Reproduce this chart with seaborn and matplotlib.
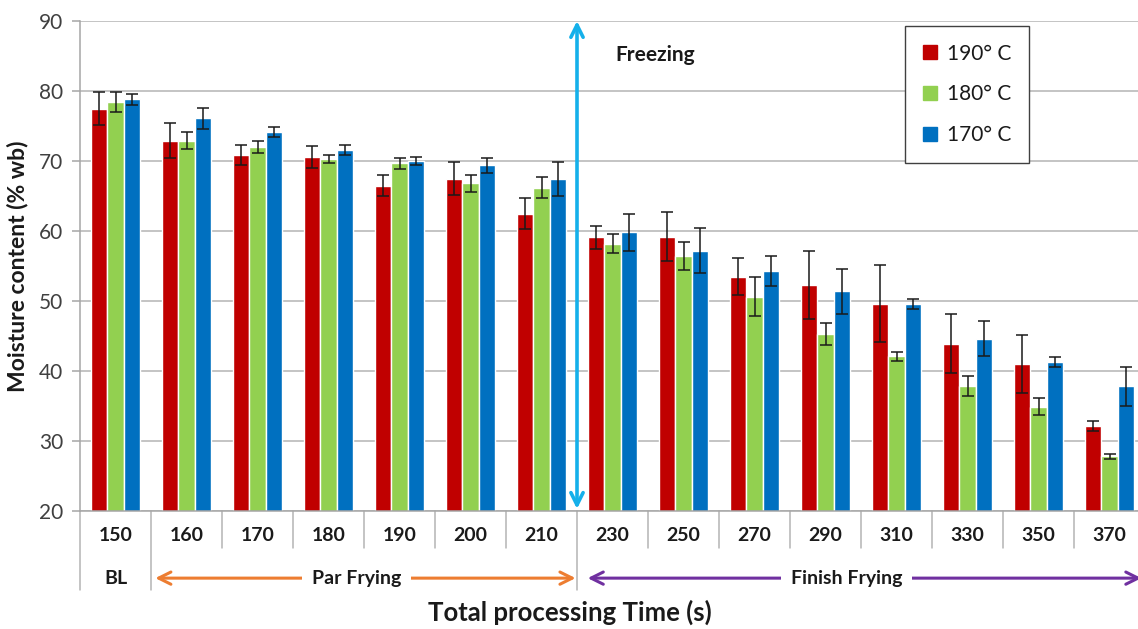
import matplotlib
matplotlib.use("Agg")
import matplotlib.pyplot as plt
import matplotlib.transforms as mtransforms
import numpy as np
import pandas as pd
import seaborn as sns

# Total processing time (s) for each sampling point
times = ['150', '160', '170', '180', '190', '200', '210', '230', '250',
         '270', '290', '310', '330', '350', '370']

# Moisture content (% wb) at each frying temperature
m190 = [77.5, 72.9, 70.9, 70.6, 66.5, 67.5, 62.5, 59.1, 59.2, 53.5, 52.3, 49.6, 43.9, 41.0, 32.2]
m180 = [78.4, 72.9, 72.0, 70.3, 69.7, 66.8, 66.2, 58.2, 56.5, 50.6, 45.3, 42.1, 37.9, 34.9, 27.8]
m170 = [78.8, 76.1, 74.2, 71.6, 70.0, 69.4, 67.4, 59.8, 57.2, 54.3, 51.4, 49.6, 44.6, 41.3, 37.8]

# Standard deviations
e190 = [2.4, 2.5, 1.4, 1.6, 1.5, 2.4, 2.2, 1.6, 3.55, 2.6, 4.9, 5.5, 4.2, 4.2, 0.7]
e180 = [1.4, 1.2, 0.9, 0.6, 0.8, 1.2, 1.5, 1.35, 2.0, 2.8, 1.6, 0.6, 1.4, 1.2, 0.4]
e170 = [0.8, 1.5, 0.7, 0.7, 0.55, 1.1, 2.4, 2.7, 3.2, 2.15, 3.2, 0.75, 2.5, 0.7, 2.8]

temps = ['190° C', '180° C', '170° C']
colors = ['#c00000', '#92d050', '#0070c0']

df = pd.concat([
    pd.DataFrame({'time': times, 'moisture': m, 'temp': t})
    for m, t in zip([m190, m180, m170], temps)
], ignore_index=True)

sns.set_theme(style='white')
plt.rcParams['font.family'] = ['Lato', 'DejaVu Sans']

fig = plt.figure(figsize=(11.38, 6.29), dpi=100)
ax = fig.add_axes([80 / 1138, 1 - 511 / 629, 1065 / 1138, 490 / 629])

sns.barplot(data=df, x='time', y='moisture', hue='temp', hue_order=temps,
            palette=colors, order=times, width=0.68, errorbar=None,
            saturation=1, ax=ax, legend=False, zorder=2)

# Error bars on top of each bar
for cont, errs in zip(ax.containers, [e190, e180, e170]):
    xs = [p.get_x() + p.get_width() / 2 for p in cont.patches]
    ys = [p.get_height() for p in cont.patches]
    ax.errorbar(xs, ys, yerr=errs, fmt='none', ecolor='#1a1a1a',
                elinewidth=1.1, capsize=4.3, capthick=1.1, zorder=3)

ax.set_ylim(20, 90)
ax.set_xlim(-0.5, len(times) - 0.5)
ax.set_yticks(np.arange(20, 91, 10))
ax.yaxis.grid(True, color='#b4b4b4', linewidth=1.1, zorder=0)
ax.set_axisbelow(True)
for s in ['top', 'right']:
    ax.spines[s].set_visible(False)
for s in ['left', 'bottom']:
    ax.spines[s].set_color('#a6a6a6')
    ax.spines[s].set_linewidth(1.1)
ax.spines['left'].set_bounds(20, 90)

ax.tick_params(axis='y', which='major', left=True, length=6, width=1.1,
               color='#a6a6a6', labelsize=15, labelcolor='#404040', pad=6)
ax.tick_params(axis='x', bottom=False, labelbottom=False)
ax.set_xlabel('')
ax.set_ylabel('Moisture content (% wb)', fontsize=16.5, fontweight='bold',
              color='#1a1a1a', labelpad=8)

# Multi-level category axis below the plot
trans = mtransforms.blended_transform_factory(ax.transData, ax.transAxes)
for i, t in enumerate(times):
    ax.text(i, -0.051, t, transform=trans, ha='center', va='center',
            fontsize=14, fontweight='bold', color='#1a1a1a')
for b in np.arange(-0.5, len(times) - 0.5, 1.0):
    long_tick = b in (-0.5, 0.5, 6.5)
    ax.plot([b, b], [0, -0.161 if long_tick else -0.0755], transform=trans,
            color='#b4b4b4', linewidth=1.1, clip_on=False)

ax.text(0, -0.137, 'BL', transform=trans, ha='center', va='center',
        fontsize=14, fontweight='bold', color='#1a1a1a')


def span_arrow(x0, x1, label, xtext, color):
    ax.annotate('', xy=(x0, -0.137), xytext=(x1, -0.137), xycoords=trans,
                textcoords=trans,
                arrowprops=dict(arrowstyle='<->', color=color, lw=2.2,
                                mutation_scale=22, shrinkA=0, shrinkB=0))
    ax.text(xtext, -0.137, label, transform=trans, ha='center', va='center',
            fontsize=14, fontweight='bold', color='#1a1a1a',
            bbox=dict(facecolor='white', edgecolor='none', pad=7))


span_arrow(0.56, 6.48, 'Par Frying', 3.4, '#ed7d31')
span_arrow(6.65, 14.45, 'Finish Frying', 10.3, '#7030a0')

# Freezing step marker
ax.annotate('', xy=(6.5, 20.3), xytext=(6.5, 90), xycoords='data',
            arrowprops=dict(arrowstyle='<->', color='#15b0ea', lw=2.6,
                            mutation_scale=22, shrinkA=0, shrinkB=0),
            zorder=4)
ax.text(7.6, 85.2, 'Freezing', ha='center', va='center', fontsize=15,
        fontweight='bold', color='#1a1a1a')

# Legend
handles = [plt.Rectangle((0, 0), 1, 1, color=c) for c in colors]
leg = ax.legend(handles, temps, loc='upper left', bbox_to_anchor=(0.775, 0.99),
                fontsize=15, frameon=True, fancybox=False, framealpha=1,
                edgecolor='#404040', handlelength=0.65, handleheight=0.65,
                handletextpad=0.5, labelspacing=1.0, borderpad=0.85,
                borderaxespad=0)
leg.get_frame().set_linewidth(1.0)
for txt in leg.get_texts():
    txt.set_color('#1a1a1a')

fig.text(570 / 1138, 1 - 612 / 629, 'Total processing Time (s)', ha='center',
         va='center', fontsize=18.5, fontweight='bold', color='#1a1a1a')

fig.savefig('out.png', dpi=100)
